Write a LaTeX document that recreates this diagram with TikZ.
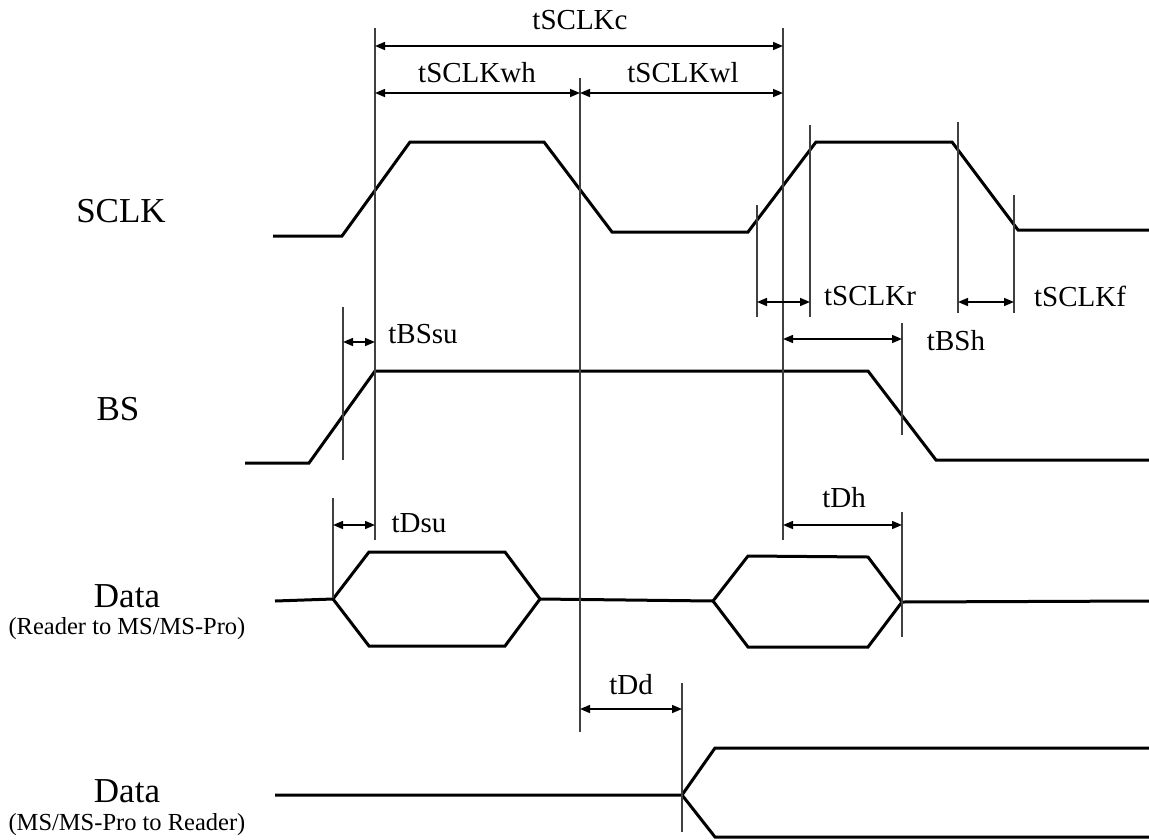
\documentclass[tikz,border=0pt]{standalone}
\usepackage{fontspec}
\setmainfont{Liberation Serif}
\usetikzlibrary{arrows.meta}
\tikzset{
  sig/.style={line width=3pt, line join=miter},
  tick/.style={line width=1.2pt, draw=black!75},
  dim/.style={line width=1.5pt, {Triangle[length=10pt,width=8pt]}-{Triangle[length=10pt,width=8pt]}},
  biglab/.style={inner sep=0pt, font=\fontsize{35}{40}\selectfont},
  sublab/.style={inner sep=0pt, font=\fontsize{24.5}{28}\selectfont},
  tlab/.style={inner sep=0pt, font=\fontsize{29}{32}\selectfont},
}
\begin{document}
\begin{tikzpicture}[x=1pt,y=-1pt]
\useasboundingbox (0,0) rectangle (1149,839);
% signal names
\node[biglab] (nsclk) at (121,211) {SCLK};
\node[biglab] (nbs) at (118,409) {BS};
\node[biglab] (nd1) at (127,596) {Data};
\node[sublab] (nd1s) at (127,629) {(Reader to MS/MS-Pro)};
\node[biglab] (nd2) at (127,791) {Data};
\node[sublab] (nd2s) at (127,825) {(MS/MS-Pro to Reader)};
% waveforms
\draw[sig] (273,236) -- (342,236) -- (410,142) -- (544,142) -- (612,232) -- (748,232) -- (816,142) -- (952,142) -- (1018,230) -- (1149,230);
\draw[sig] (245,463) -- (309,463) -- (375,371) -- (868,371) -- (936,460) -- (1149,460);
\draw[sig] (275,601) -- (333,599) -- (369,552) -- (505,552) -- (540,599) -- (713,601) -- (748,556) -- (868,557) -- (902,602) -- (1149,601);
\draw[sig] (333,599) -- (369,646) -- (505,646) -- (540,599);
\draw[sig] (713,601) -- (748,647) -- (868,647) -- (902,602);
\draw[sig] (275,795) -- (682,795) -- (715,748) -- (1149,748);
\draw[sig] (682,795) -- (715,837) -- (1149,837);
% vertical reference lines
\draw[tick] (375,28) -- (375,540);
\draw[tick] (783,28) -- (783,540);
\draw[tick] (580,78) -- (580,732);
\draw[tick] (343,307) -- (343,460);
\draw[tick] (333,498) -- (333,598);
\draw[tick] (757,205) -- (757,317);
\draw[tick] (810,125) -- (810,317);
\draw[tick] (958,122) -- (958,313);
\draw[tick] (1014,195) -- (1014,313);
\draw[tick] (902,323) -- (902,435);
\draw[tick] (902,512) -- (902,637);
\draw[tick] (682,683) -- (682,832);
% dimension arrows
\draw[dim] (375,46) -- (783,46);
\draw[dim] (375,93) -- (580,93);
\draw[dim] (580,93) -- (783,93);
\draw[dim] (757,302) -- (810,302);
\draw[dim] (958,302) -- (1014,302);
\draw[dim] (783,339) -- (902,339);
\draw[dim] (343,342) -- (375,342);
\draw[dim] (333,525) -- (375,525);
\draw[dim] (783,525) -- (902,525);
\draw[dim] (580,709) -- (682,709);
% timing labels
\node[tlab] (lc) at (580,20) {tSCLKc};
\node[tlab] (lwh) at (477,73) {tSCLKwh};
\node[tlab] (lwl) at (683,73) {tSCLKwl};
\node[tlab] (lr) at (870,296) {tSCLKr};
\node[tlab] (lf) at (1080,296) {tSCLKf};
\node[tlab] (lbsh) at (956,341) {tBSh};
\node[tlab] (lbssu) at (423,334) {tBSsu};
\node[tlab] (ldsu) at (419,523) {tDsu};
\node[tlab] (ldh) at (844,498) {tDh};
\node[tlab] (ldd) at (631,685) {tDd};
\end{tikzpicture}
\end{document}
